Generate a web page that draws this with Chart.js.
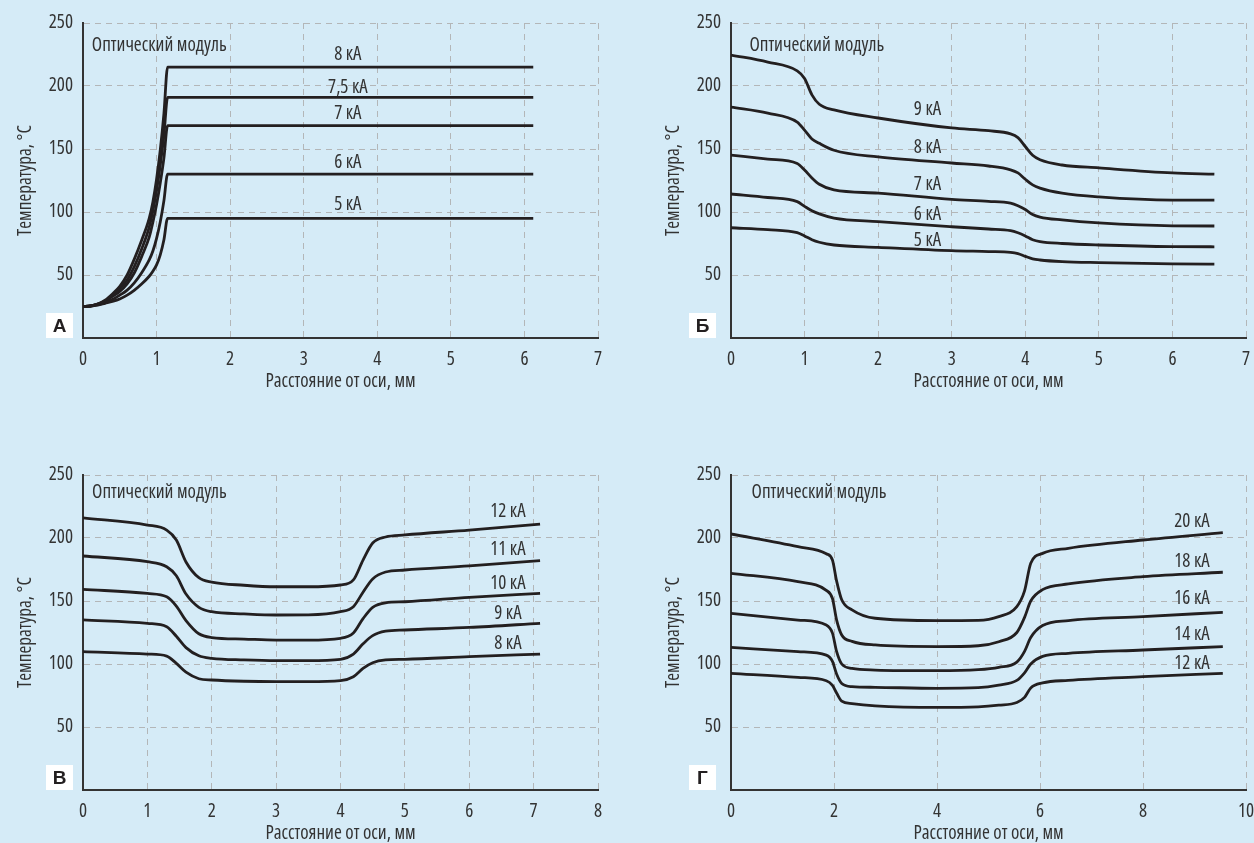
<!DOCTYPE html>
<html>
<head>
<meta charset="utf-8">
<script src="https://cdn.jsdelivr.net/npm/chart.js@4.4.0/dist/chart.umd.min.js"></script>
<style>
  html, body { margin: 0; padding: 0; width: 1254px; height: 843px; overflow: hidden; background: #d5ebf7; }
  .box { position: absolute; width: 627px; height: 421px; }
</style>
</head>
<body>
<div class="box" style="left:0;top:0"><canvas id="chartA" width="627" height="421"></canvas></div>
<div class="box" style="left:648px;top:0"><canvas id="chartB" width="627" height="421"></canvas></div>
<div class="box" style="left:0;top:452px"><canvas id="chartC" width="627" height="421"></canvas></div>
<div class="box" style="left:648px;top:452px"><canvas id="chartD" width="627" height="421"></canvas></div>
<script>
/* global Chart */
// Open Sans с осью ширины даёт узкое начертание, как в оригинале
const FONT = "'Open Sans', 'Liberation Sans', sans-serif"
const STRETCH = 'condensed'
const INK = '#231f20'

const xTitle = 'Расстояние от оси, мм'
const yTitle = 'Температура, °С'
const moduleLabel = 'Оптический модуль'
const yTicks = [0, 50, 100, 150, 200, 250]

// Панель А
const xA = [0, 0.1, 0.2, 0.3, 0.4, 0.5, 0.6, 0.7, 0.8, 0.9, 0.95, 1.0, 1.05, 1.1, 1.15, 6.12]
const a8 = [25, 25.5, 27, 30, 35, 41, 50, 63, 78, 95, 108, 126, 149, 178, 215, 215]
const a75 = [25, 25.5, 27, 29.5, 34, 39, 46, 57, 71, 88, 101, 117, 137, 161, 191, 191]
const a7 = [25, 25.5, 27, 29, 33, 37, 43, 52, 65, 80, 92, 106, 123, 143, 168.5, 168.5]
const a6 = [25, 25.3, 26.5, 28, 30.5, 34, 38, 44, 52, 62, 69, 79, 92, 109, 130, 130]
const a5 = [25, 25.2, 26, 27.5, 29, 31, 34, 38, 43, 49, 53, 58, 66, 78, 95, 95]
const namesA = ['8 кА', '7,5 кА', '7 кА', '6 кА', '5 кА']

// Панель Б
const xB = [0, 0.5, 0.9, 1.0, 1.1, 1.2, 1.4, 2, 3, 3.5, 3.8, 3.9, 4.0, 4.1, 4.2, 4.5, 5, 6, 6.57]
const b9 = [224.6, 219, 212, 206, 193, 185.5, 181, 174.6, 166.7, 164.5, 162, 159, 152, 145, 141.5, 137.3, 135, 131, 130]
const b8 = [183.3, 178.5, 171.4, 165, 158, 154.5, 149, 143.7, 138.9, 136.5, 133.5, 131, 126, 121.5, 119, 115, 112, 109.5, 109.5]
const b7 = [145.2, 142, 138.5, 133.3, 127, 122, 117.5, 115, 110, 108.5, 107, 105, 102, 98, 96, 93.7, 91.3, 89, 88.9]
const b6 = [114.3, 111.5, 108.2, 104.5, 101, 98.5, 95.2, 92.3, 88.3, 86.5, 85.2, 83.5, 81, 78, 76.5, 75, 73.8, 72.5, 72.4]
const b5 = [87.5, 86, 83.6, 81, 78, 76, 73.8, 72, 69.3, 68.6, 68, 67, 64.8, 62.8, 61.9, 60.6, 59.8, 58.8, 58.7]
const namesB = ['9 кА', '8 кА', '7 кА', '6 кА', '5 кА']

// Панель В
const xC = [0, 1, 1.3, 1.45, 1.6, 1.8, 2, 2.5, 3, 3.5, 4, 4.2, 4.35, 4.5, 4.7, 5, 6, 7.1]
const c12 = [215.9, 210.3, 206.3, 198.4, 181, 168.5, 165, 162.5, 161.3, 161.3, 162.7, 166.7, 182.5, 196, 200.8, 202.4, 206.3, 211]
const c11 = [185.7, 181.2, 177.2, 170, 155.5, 145, 141.5, 139.8, 138.9, 139, 141.5, 145.5, 157, 167.5, 173, 174.6, 177.8, 182]
const c10 = [159.3, 156, 153.4, 146, 134.5, 124, 121, 119.8, 119, 119, 120.4, 124.6, 136, 145, 148.6, 149.4, 152.9, 156]
const c9 = [135, 132.3, 129.6, 122, 113, 106.5, 104.5, 103.2, 102.6, 102.6, 103.7, 107.9, 116, 122.5, 126, 127, 129, 132.3]
const c8 = [109.8, 107.9, 106.3, 100.5, 93.5, 88.3, 87.3, 86.3, 86, 86, 86.8, 89.9, 96.5, 101, 103.2, 103.7, 105.8, 107.9]
const namesC = ['12 кА', '11 кА', '10 кА', '9 кА', '8 кА']

// Панель Г
const xD = [0, 1.3, 1.85, 1.97, 2.05, 2.15, 2.35, 2.8, 4, 4.8, 5.2, 5.55, 5.7, 5.82, 6.05, 6.55, 8, 9.55]
const d20 = [203.2, 193.1, 187.5, 182.5, 166, 151, 143, 136.3, 134.4, 134.6, 137.6, 145.5, 158, 179.9, 187.8, 191.8, 198.4, 204.2]
const d18 = [172, 165.3, 158.5, 152, 135, 123, 118, 115.1, 113.8, 114.5, 117.7, 125, 137, 150, 159, 163.5, 169.3, 172.8]
const d16 = [140.2, 134.9, 131, 124.5, 110, 100, 96.5, 95.2, 94.7, 95.5, 97.4, 101.5, 110, 121, 130.5, 134.5, 137.6, 141]
const d14 = [113.2, 109.8, 107, 102, 92, 84.5, 82, 81.5, 80.7, 81.2, 83.3, 87, 93, 100, 106, 108.5, 111.1, 113.8]
const d12 = [92.6, 89.4, 86.7, 83, 77, 70.5, 68.5, 66.8, 65.6, 66, 67.3, 69.5, 73.5, 81, 85, 87, 89.9, 92.6]
const namesD = ['20 кА', '18 кА', '16 кА', '14 кА', '12 кА']

// Подписи кривых: [x, y] в единицах осей
const placeA = { names: [[3.6, 224.6], [3.6, 199], [3.6, 177.8], [3.6, 138.9], [3.6, 105.6]], module: [0.12, 232] }
const placeB = { names: [[2.67, 181], [2.67, 150.8], [2.67, 122], [2.67, 97.6], [2.67, 77]], module: [0.25, 232] }
const placeC = { names: [[6.6, 220.9], [6.6, 190.5], [6.6, 163.5], [6.6, 140.2], [6.6, 116.4]], module: [0.14, 236] }
const placeD = { names: [[8.95, 213.3], [8.95, 181.2], [8.95, 152.1], [8.95, 123], [8.95, 100.5]], module: [0.4, 236] }

const notesPlugin = {
  id: 'notes',
  afterDatasetsDraw (chart, args, opts) {
    const { ctx, chartArea } = chart
    const sx = chart.scales.x
    const sy = chart.scales.y
    ctx.save()
    ctx.fillStyle = '#333'
    ctx.font = STRETCH + ' 19px ' + FONT
    ctx.textBaseline = 'middle'
    ctx.textAlign = 'left'
    ctx.fillText(moduleLabel, sx.getPixelForValue(opts.place.module[0]), sy.getPixelForValue(opts.place.module[1]))
    ctx.textAlign = 'center'
    opts.names.forEach((n, i) => {
      const p = opts.place.names[i]
      ctx.fillText(n, sx.getPixelForValue(p[0]), sy.getPixelForValue(p[1]))
    })
    // буква панели
    const bw = 27
    const bh = 25
    const bx = chartArea.left - opts.badgeGap - bw
    const by = chartArea.bottom - bh
    ctx.fillStyle = '#ffffff'
    ctx.fillRect(bx, by, bw, bh)
    ctx.fillStyle = INK
    ctx.font = "bold 19px 'Liberation Sans', Arial, sans-serif"
    ctx.fillText(opts.letter, bx + bw / 2, by + bh / 2 + 1)
    ctx.restore()
  }
}

function makeChart (id, xs, series, names, xMax, xStep, place, letter, badgeGap) {
  const font = { family: FONT, size: 19, weight: STRETCH }
  const datasets = series.map((s, i) => ({
    label: names[i],
    data: xs.map((x, j) => ({ x, y: s[j] })),
    borderColor: INK,
    borderWidth: 2.8,
    pointRadius: 0,
    fill: false,
    cubicInterpolationMode: 'monotone'
  }))
  return new Chart(document.getElementById(id), {
    type: 'line',
    data: { datasets },
    plugins: [notesPlugin],
    options: {
      responsive: false,
      animation: false,
      layout: { padding: { left: 0, top: 23, right: 29, bottom: 28 } },
      plugins: {
        legend: { display: false },
        tooltip: { enabled: false },
        notes: { names, place, letter, badgeGap }
      },
      scales: {
        x: {
          type: 'linear',
          min: 0,
          max: xMax,
          afterFit: s => { s.height = 55 },
          ticks: { stepSize: xStep, padding: 10, color: '#333', font },
          grid: { color: '#b3b6b8', drawTicks: false },
          border: { display: true, color: '#333', width: 2, dash: [6, 5] },
          title: { display: true, text: xTitle, color: '#333', padding: 0, font }
        },
        y: {
          min: 0,
          max: 250,
          afterFit: s => { s.width = 83 },
          afterBuildTicks: s => { s.ticks = yTicks.map(v => ({ value: v })) },
          ticks: {
            padding: 10,
            color: '#333',
            font,
            callback: v => (v === 0 ? '' : v)
          },
          grid: { color: '#b3b6b8', drawTicks: false },
          border: { display: true, color: '#333', width: 2, dash: [6, 5] },
          title: { display: true, text: yTitle, color: '#333', padding: { top: 14, bottom: 0 }, font }
        }
      }
    }
  })
}

makeChart('chartA', xA, [a8, a75, a7, a6, a5], namesA, 7, 1, placeA, 'А', 10)
makeChart('chartB', xB, [b9, b8, b7, b6, b5], namesB, 7, 1, placeB, 'Б', 15)
makeChart('chartC', xC, [c12, c11, c10, c9, c8], namesC, 8, 1, placeC, 'В', 10)
makeChart('chartD', xD, [d20, d18, d16, d14, d12], namesD, 10, 2, placeD, 'Г', 15)
</script>
</body>
</html>
